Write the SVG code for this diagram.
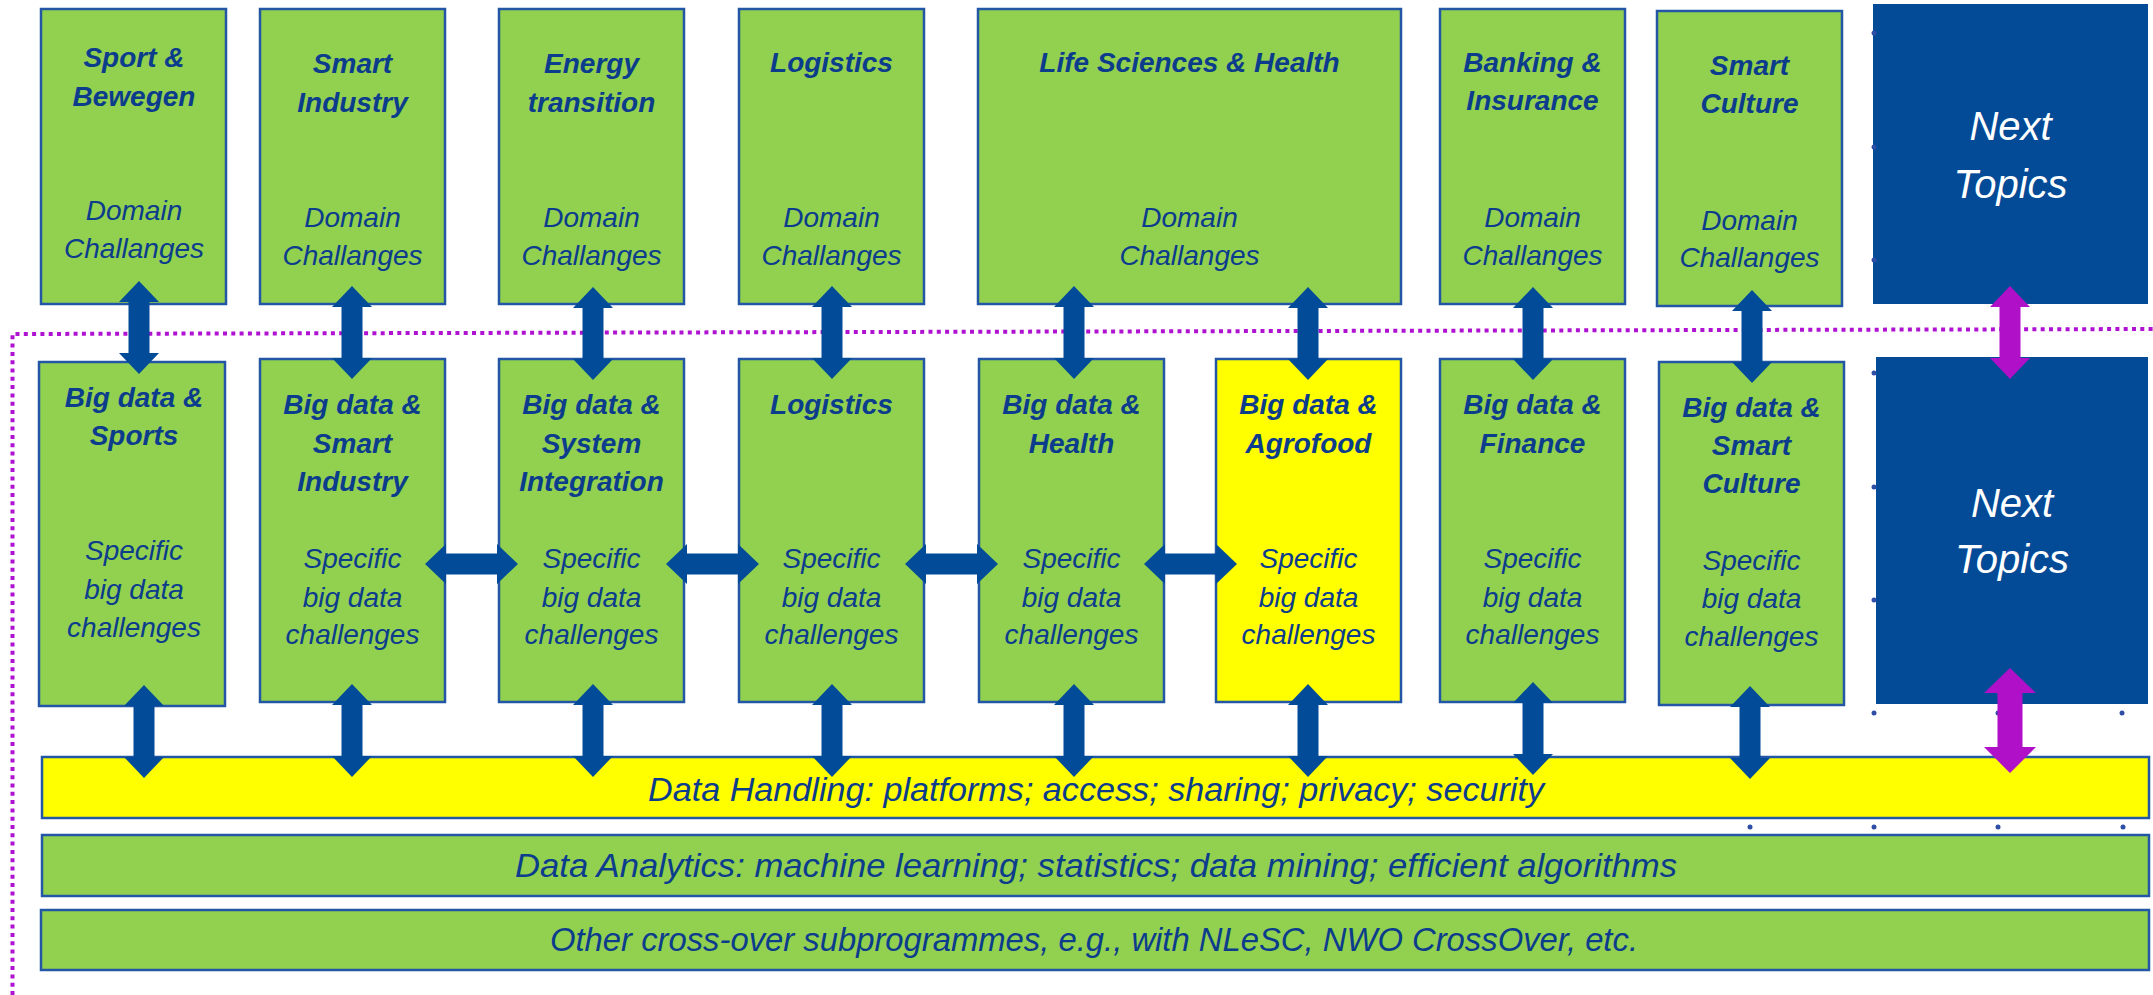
<svg xmlns="http://www.w3.org/2000/svg" xmlns:xlink="http://www.w3.org/1999/xlink" width="2153" height="995" viewBox="0 0 2153 995">
<style>
.box{fill:#92D050;stroke:#2357A5;stroke-width:2.5}
.ybox{fill:#FFFF00;stroke:#2357A5;stroke-width:2.5}
.nt{fill:#034A97}
.t{font-family:"Liberation Sans",Arial,sans-serif;font-style:italic;fill:#0C3C8C;font-size:28px;text-anchor:middle}
.b{font-weight:bold}
.w{fill:#FFFFFF;font-size:40px}
.bar{font-size:33px}
.arr{fill:#024B98}
.parr{fill:#B010C8}
.dot{fill:#2F4EA6}
.dl{fill:none;stroke:#B012D2;stroke-width:4;stroke-dasharray:4 4.3}
</style>
<defs>
<path id="va" d="M0,0 L20,21 L10.5,21 L10.5,72 L20,72 L0,93 L-20,72 L-10.5,72 L-10.5,21 L-20,21 Z"/>
<path id="ha" d="M0,0 L21,-20 L21,-10.5 L72,-10.5 L72,-20 L93,0 L72,20 L72,10.5 L21,10.5 L21,20 Z"/>
</defs>
<rect width="2153" height="995" fill="#FFFFFF"/>

<g id="boundary">
<polyline class="dl" points="12.5,995 12.5,334 2153,329"/>
</g>

<g id="n-sport">
<rect class="box" x="41" y="9" width="185" height="295"/>
<text class="t b" x="134" y="67">Sport &amp;</text>
<text class="t b" x="134" y="106">Bewegen</text>
<text class="t" x="134" y="220">Domain</text>
<text class="t" x="134" y="258">Challanges</text>
</g>
<g id="n-smartindustry">
<rect class="box" x="260" y="9" width="185" height="295"/>
<text class="t b" x="352.5" y="73">Smart</text>
<text class="t b" x="352.5" y="112">Industry</text>
<text class="t" x="352.5" y="227">Domain</text>
<text class="t" x="352.5" y="265">Challanges</text>
</g>
<g id="n-energy">
<rect class="box" x="499" y="9" width="185" height="295"/>
<text class="t b" x="591.5" y="73">Energy</text>
<text class="t b" x="591.5" y="112">transition</text>
<text class="t" x="591.5" y="227">Domain</text>
<text class="t" x="591.5" y="265">Challanges</text>
</g>
<g id="n-logistics">
<rect class="box" x="739" y="9" width="185" height="295"/>
<text class="t b" x="831.5" y="72">Logistics</text>
<text class="t" x="831.5" y="227">Domain</text>
<text class="t" x="831.5" y="265">Challanges</text>
</g>
<g id="n-lifesciences">
<rect class="box" x="978" y="9" width="423" height="295"/>
<text class="t b" x="1189.5" y="72">Life Sciences &amp; Health</text>
<text class="t" x="1189.5" y="227">Domain</text>
<text class="t" x="1189.5" y="265">Challanges</text>
</g>
<g id="n-banking">
<rect class="box" x="1440" y="9" width="185" height="295"/>
<text class="t b" x="1532.5" y="72">Banking &amp;</text>
<text class="t b" x="1532.5" y="110">Insurance</text>
<text class="t" x="1532.5" y="227">Domain</text>
<text class="t" x="1532.5" y="265">Challanges</text>
</g>
<g id="n-smartculture">
<rect class="box" x="1657" y="11" width="185" height="295"/>
<text class="t b" x="1749.5" y="75">Smart</text>
<text class="t b" x="1749.5" y="113">Culture</text>
<text class="t" x="1749.5" y="230">Domain</text>
<text class="t" x="1749.5" y="267">Challanges</text>
</g>
<g id="n-next-top">
<rect class="nt" x="1873" y="4" width="275" height="300"/>
<text class="t w" x="2010.5" y="140">Next</text>
<text class="t w" x="2010.5" y="198">Topics</text>
</g>

<g id="n-bd-sports">
<rect class="box" x="39" y="362" width="186" height="344"/>
<text class="t b" x="134" y="407">Big data &amp;</text>
<text class="t b" x="134" y="445">Sports</text>
<text class="t" x="134" y="560">Specific</text>
<text class="t" x="134" y="599">big data</text>
<text class="t" x="134" y="637">challenges</text>
</g>
<g id="n-bd-smartindustry">
<rect class="box" x="260" y="359" width="185" height="343"/>
<text class="t b" x="352.5" y="414">Big data &amp;</text>
<text class="t b" x="352.5" y="453">Smart</text>
<text class="t b" x="352.5" y="491">Industry</text>
<text class="t" x="352.5" y="568">Specific</text>
<text class="t" x="352.5" y="607">big data</text>
<text class="t" x="352.5" y="644">challenges</text>
</g>
<g id="n-bd-system">
<rect class="box" x="499" y="359" width="185" height="343"/>
<text class="t b" x="591.5" y="414">Big data &amp;</text>
<text class="t b" x="591.5" y="453">System</text>
<text class="t b" x="591.5" y="491">Integration</text>
<text class="t" x="591.5" y="568">Specific</text>
<text class="t" x="591.5" y="607">big data</text>
<text class="t" x="591.5" y="644">challenges</text>
</g>
<g id="n-bd-logistics">
<rect class="box" x="739" y="359" width="185" height="343"/>
<text class="t b" x="831.5" y="414">Logistics</text>
<text class="t" x="831.5" y="568">Specific</text>
<text class="t" x="831.5" y="607">big data</text>
<text class="t" x="831.5" y="644">challenges</text>
</g>
<g id="n-bd-health">
<rect class="box" x="979" y="359" width="185" height="343"/>
<text class="t b" x="1071.5" y="414">Big data &amp;</text>
<text class="t b" x="1071.5" y="453">Health</text>
<text class="t" x="1071.5" y="568">Specific</text>
<text class="t" x="1071.5" y="607">big data</text>
<text class="t" x="1071.5" y="644">challenges</text>
</g>
<g id="n-bd-agrofood">
<rect class="ybox" x="1216" y="359" width="185" height="343"/>
<text class="t b" x="1308.5" y="414">Big data &amp;</text>
<text class="t b" x="1308.5" y="453">Agrofood</text>
<text class="t" x="1308.5" y="568">Specific</text>
<text class="t" x="1308.5" y="607">big data</text>
<text class="t" x="1308.5" y="644">challenges</text>
</g>
<g id="n-bd-finance">
<rect class="box" x="1440" y="359" width="185" height="343"/>
<text class="t b" x="1532.5" y="414">Big data &amp;</text>
<text class="t b" x="1532.5" y="453">Finance</text>
<text class="t" x="1532.5" y="568">Specific</text>
<text class="t" x="1532.5" y="607">big data</text>
<text class="t" x="1532.5" y="644">challenges</text>
</g>
<g id="n-bd-smartculture">
<rect class="box" x="1659" y="362" width="185" height="343"/>
<text class="t b" x="1751.5" y="417">Big data &amp;</text>
<text class="t b" x="1751.5" y="455">Smart</text>
<text class="t b" x="1751.5" y="493">Culture</text>
<text class="t" x="1751.5" y="570">Specific</text>
<text class="t" x="1751.5" y="608">big data</text>
<text class="t" x="1751.5" y="646">challenges</text>
</g>
<g id="n-next-mid">
<rect class="nt" x="1876" y="357" width="272" height="347"/>
<text class="t w" x="2012" y="517">Next</text>
<text class="t w" x="2012" y="573">Topics</text>
</g>

<g id="n-datahandling">
<rect class="ybox" x="42" y="757" width="2107" height="61"/>
<text class="t bar" x="1096" y="801" textLength="896" lengthAdjust="spacingAndGlyphs">Data Handling: platforms; access; sharing; privacy; security</text>
</g>
<g id="n-analytics">
<rect class="box" x="42" y="835" width="2107" height="61"/>
<text class="t bar" x="1096" y="877" textLength="1162" lengthAdjust="spacingAndGlyphs">Data Analytics: machine learning; statistics; data mining; efficient algorithms</text>
</g>
<g id="n-other">
<rect class="box" x="41" y="910" width="2108" height="60"/>
<text class="t bar" x="1094" y="951" textLength="1088" lengthAdjust="spacingAndGlyphs">Other cross-over subprogrammes, e.g., with NLeSC, NWO CrossOver, etc.</text>
</g>

<g id="handles">
<circle class="dot" cx="1874" cy="33" r="2.5"/>
<circle class="dot" cx="1874" cy="147" r="2.5"/>
<circle class="dot" cx="1874" cy="260" r="2.5"/>
<circle class="dot" cx="1874" cy="373" r="2.5"/>
<circle class="dot" cx="1874" cy="487" r="2.5"/>
<circle class="dot" cx="1874" cy="600" r="2.5"/>
<circle class="dot" cx="1874" cy="713" r="2.5"/>
<circle class="dot" cx="1998" cy="713" r="2.5"/>
<circle class="dot" cx="2122" cy="713" r="2.5"/>
<circle class="dot" cx="1750" cy="827" r="2.5"/>
<circle class="dot" cx="1874" cy="827" r="2.5"/>
<circle class="dot" cx="1998" cy="827" r="2.5"/>
<circle class="dot" cx="2123" cy="827" r="2.5"/>
</g>

<g id="connectors">
<use xlink:href="#va" href="#va" class="arr" x="139" y="281"/>
<use xlink:href="#va" href="#va" class="arr" x="352" y="286"/>
<use xlink:href="#va" href="#va" class="arr" x="593" y="287"/>
<use xlink:href="#va" href="#va" class="arr" x="832" y="286"/>
<use xlink:href="#va" href="#va" class="arr" x="1074" y="286"/>
<use xlink:href="#va" href="#va" class="arr" x="1308" y="287"/>
<use xlink:href="#va" href="#va" class="arr" x="1533" y="287"/>
<use xlink:href="#va" href="#va" class="arr" x="1752" y="290"/>
<use xlink:href="#va" href="#va" class="parr" x="2010" y="286"/>

<use xlink:href="#ha" href="#ha" class="arr" x="425" y="564"/>
<use xlink:href="#ha" href="#ha" class="arr" x="666" y="564"/>
<use xlink:href="#ha" href="#ha" class="arr" x="905" y="564"/>
<use xlink:href="#ha" href="#ha" class="arr" x="1144" y="564"/>

<use xlink:href="#va" href="#va" class="arr" x="144" y="685"/>
<use xlink:href="#va" href="#va" class="arr" x="352" y="684"/>
<use xlink:href="#va" href="#va" class="arr" x="593" y="684"/>
<use xlink:href="#va" href="#va" class="arr" x="832" y="684"/>
<use xlink:href="#va" href="#va" class="arr" x="1074" y="684"/>
<use xlink:href="#va" href="#va" class="arr" x="1308" y="684"/>
<use xlink:href="#va" href="#va" class="arr" x="1533" y="682"/>
<use xlink:href="#va" href="#va" class="arr" x="1750" y="686"/>
<path class="parr" d="M2010,668 L2036,693 L2022.5,693 L2022.5,747 L2036,747 L2010,773 L1984,747 L1997.5,747 L1997.5,693 L1984,693 Z"/>
</g>
</svg>
